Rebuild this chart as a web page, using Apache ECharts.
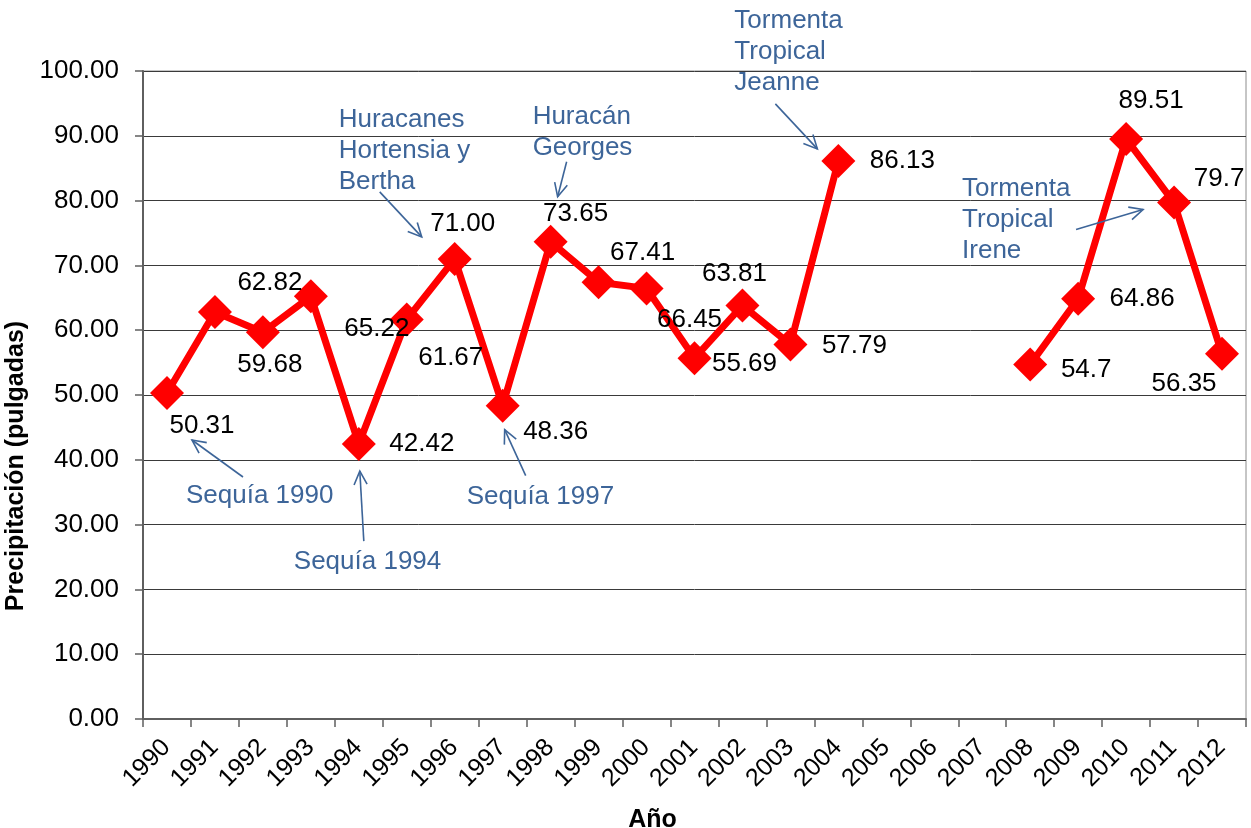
<!DOCTYPE html>
<html>
<head>
<meta charset="utf-8">
<script src="https://cdn.jsdelivr.net/npm/echarts@6/dist/echarts.min.js"></script>
<style>
html,body{margin:0;padding:0;background:#fff;}
#chart{width:1251px;height:828px;}
</style>
</head>
<body>
<div id="chart"></div>
<script>
// ---- data ----
const years = ['1990','1991','1992','1993','1994','1995','1996','1997','1998','1999','2000','2001','2002','2003','2004','2005','2006','2007','2008','2009','2010','2011','2012'];
const precip = [50.31, 62.82, 59.68, 65.22, 42.42, 61.67, 71.00, 48.36, 73.65, 67.41, 66.45, 55.69, 63.81, 57.79, 86.13, null, null, null, 54.7, 64.86, 89.51, 79.7, 56.35];
const valueLabels = ['50.31','62.82','59.68','65.22','42.42','61.67','71.00','48.36','73.65','67.41','66.45','55.69','63.81','57.79','86.13','','','','54.7','64.86','89.51','79.7','56.35'];
const yMin = 0, yMax = 100, yStep = 10;
const annotationTexts = ['Sequía 1990','Sequía 1994','Huracanes\nHortensia y\nBertha','Huracán\nGeorges','Sequía 1997','Tormenta\nTropical\nJeanne','Tormenta\nTropical\nIrene'];
const annotationYears = ['1990','1994','1996','1998','1997','2004','2011'];

// ---- layout (pixel offsets relative to the data points) ----
const labelOffsets = [[35,33],[55,-29],[7,33],[66,32],[63,0],[44,38],[8,-35],[53,26],[25,-28],[44,-29],[43,31],[50,6],[-8,-32],[64,1],[64,0],null,null,null,[56,5],[64,0],[25,-38],[45,-24],[-38,30]];
const annotationLayout = [
  {tx:19, ty:103, a:[[76,84],[25,47]]},
  {tx:-65, ty:118, a:[[5,97],[1,27]]},
  {tx:-116, ty:-139, a:[[-75,-67],[-33,-22]]},
  {tx:-18, ty:-125, a:[[16,-80],[7,-45]]},
  {tx:-36, ty:91, a:[[23,70],[2,24]]},
  {tx:-104, ty:-140, a:[[-63,-57],[-21,-12]]},
  {tx:-212, ty:-14, a:[[-98,27],[-31,7]]}
];

const FONT = 'Liberation Sans, Arial, sans-serif';
const BLUE = '#3D6599';
const AXIS = '#5f5f5f';

const chart = echarts.init(document.getElementById('chart'), null, {renderer:'canvas'});

const seriesData = precip.map((v, i) => {
  const item = {value: v};
  if (v !== null && labelOffsets[i]) {
    item.label = {offset: labelOffsets[i], formatter: valueLabels[i]};
  }
  return item;
});

chart.setOption({
  animation: false,
  backgroundColor: '#fff',
  grid: {left:143, right:5, top:71, bottom:109, containLabel:false, outerBoundsMode:'none', show:true, borderColor:'#8c8c8c', borderWidth:1, backgroundColor:'transparent'},
  xAxis: {
    type: 'category',
    data: years,
    boundaryGap: true,
    name: 'Año',
    nameLocation: 'middle',
    nameGap: 89,
    nameTextStyle: {fontFamily: FONT, fontSize: 25, fontWeight: 'bold', color: '#000', padding: [0, 84, 0, 0]},
    axisLine: {show:true, lineStyle:{color: AXIS, width: 2}},
    axisTick: {show:true, alignWithLabel:false, length: 8, lineStyle:{color: AXIS, width: 1.5}},
    axisLabel: {rotate: 45, margin: 24, align: 'center', padding: [0, 57, 0, 0], fontFamily: FONT, fontSize: 25, color: '#000', interval: 0},
    splitLine: {show:false}
  },
  yAxis: {
    type: 'value',
    min: yMin, max: yMax, interval: yStep,
    name: 'Precipitación (pulgadas)',
    nameLocation: 'middle',
    nameGap: 104,
    nameRotate: 90,
    nameTextStyle: {fontFamily: FONT, fontSize: 25, fontWeight: 'bold', color: '#000', padding: [0, 142, 0, 0]},
    axisLine: {show:true, lineStyle:{color: AXIS, width: 2}},
    axisTick: {show:true, length: 8, lineStyle:{color: AXIS, width: 1.5}},
    axisLabel: {margin: 24, fontFamily: FONT, fontSize: 26, color: '#000', formatter: v => v.toFixed(2)},
    splitLine: {show:true, lineStyle:{color:'#3a3a3a', width:1}}
  },
  series: [{
    type: 'line',
    data: seriesData,
    connectNulls: false,
    symbol: 'diamond',
    symbolSize: 34,
    lineStyle: {color:'#FF0000', width: 7},
    itemStyle: {color:'#FF0000'},
    label: {show:true, position:'inside', fontFamily: FONT, fontSize: 26, color:'#000'},
    emphasis: {disabled: true},
    z: 3
  }]
});

// ---- annotations anchored on data points ----
function arrowHead(from, to, len, ang) {
  const dx = to[0]-from[0], dy = to[1]-from[1];
  const a = Math.atan2(dy, dx);
  const p1 = [to[0] - len*Math.cos(a - ang), to[1] - len*Math.sin(a - ang)];
  const p2 = [to[0] - len*Math.cos(a + ang), to[1] - len*Math.sin(a + ang)];
  return [p1, to, p2];
}
const graphics = [];
annotationTexts.forEach((txt, k) => {
  const idx = years.indexOf(annotationYears[k]);
  const p = chart.convertToPixel({seriesIndex:0}, [idx, precip[idx]]);
  const L = annotationLayout[k];
  graphics.push({
    type:'text', x: p[0] + L.tx, y: p[1] + L.ty - 15.5, z: 10,
    style:{text: txt, fill: BLUE, fontFamily: FONT, fontSize: 26, lineHeight: 31, align:'left', verticalAlign:'top'}
  });
  const from = [p[0] + L.a[0][0], p[1] + L.a[0][1]];
  const to = [p[0] + L.a[1][0], p[1] + L.a[1][1]];
  graphics.push({type:'polyline', z:10, shape:{points:[from, to]}, style:{stroke: BLUE, lineWidth: 1.6, fill: null}});
  graphics.push({type:'polyline', z:10, shape:{points: arrowHead(from, to, 15, 0.45)}, style:{stroke: BLUE, lineWidth: 1.6, fill: null}});
});
chart.setOption({graphic: graphics});
</script>
</body>
</html>
